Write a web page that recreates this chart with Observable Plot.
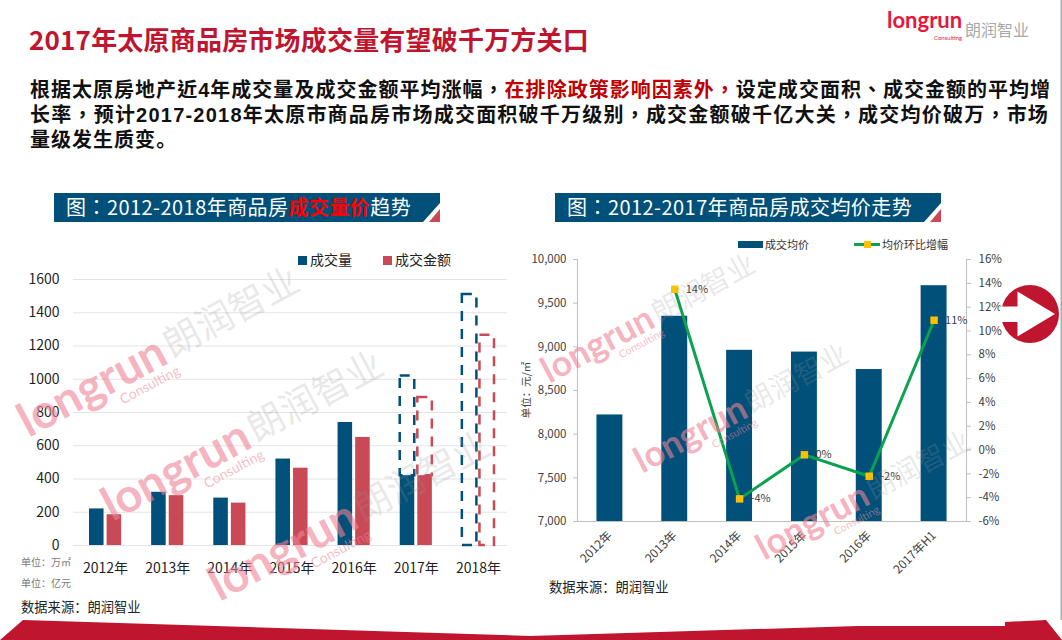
<!DOCTYPE html>
<html lang="zh-CN"><head><meta charset="utf-8">
<script src="https://cdn.jsdelivr.net/npm/d3@7"></script>
<script src="https://cdn.jsdelivr.net/npm/@observablehq/plot@0.6"></script>
<style>
html,body{margin:0;padding:0;background:#fff}
#page{position:relative;width:1062px;height:640px;overflow:hidden;background:#fff;font-family:"Noto Sans CJK SC","Noto Sans",sans-serif;color:#1a1a1a}
.abs{position:absolute;white-space:nowrap;line-height:1}
#page svg{background:transparent}
.banner{position:absolute;top:193px;height:29px;background:#00507a;overflow:hidden}
.banner .txt{position:absolute;left:12px;top:3px;color:#fff;font:400 20px/21px "Noto Sans CJK TC",sans-serif;letter-spacing:.45px;white-space:nowrap}
.banner .slash{position:absolute;right:0;bottom:0;width:17px;height:19px;background:#fff;clip-path:polygon(100% 0,100% 100%,0 100%)}
.banner .tri{position:absolute;right:0;bottom:0;width:11px;height:13px;background:#c94a56;clip-path:polygon(100% 0,100% 100%,0 100%)}
.wm{position:absolute;white-space:nowrap;pointer-events:none;height:0;width:0;z-index:5;transform-origin:0 0}
.wm span{position:absolute;white-space:nowrap;line-height:1}
</style></head><body><div id="page"></div>
<script>
// ---------- data ----------
const years = ["2012年","2013年","2014年","2015年","2016年","2017年","2018年"];
const volume = [220,320,285,520,740,420,null];
const amount = [185,300,255,465,650,420,null];
const forecastYears = ["2017年","2018年"];
const forecastVolumeBase = [420,0];
const forecastVolumeTop = [1020,1510];
const forecastAmountBase = [420,0];
const forecastAmountTop = [890,1265];
const priceYears = ["2012年","2013年","2014年","2015年","2016年","2017年H1"];
const avgPrice = [8220,9350,8960,8940,8740,9700];
const growthYears = ["2013年","2014年","2015年","2016年","2017年H1"];
const growth = [13.5,-4.1,-0.4,-2.2,10.9];
const growthLabels = ["14%","-4%","0%","-2%","11%"];
const leftTicks = [0,200,400,600,800,1000,1200,1400,1600];
const priceTicks = [7000,7500,8000,8500,9000,9500,10000];
const pctTicks = [-6,-4,-2,0,2,4,6,8,10,12,14,16];

const BLUE="#00507a", RED="#c94a56", GREEN="#0ba24f", YEL="#ffc000", INK="#333";
const page=document.getElementById("page");
const FONT='"Noto Sans CJK SC","Noto Sans",sans-serif';

function put(node,left,top,z){node.style.position="absolute";node.style.left=left+"px";node.style.top=top+"px";if(z)node.style.zIndex=z;page.appendChild(node);return node;}
function label(text,left,top,css){const d=document.createElement("div");d.className="abs";d.textContent=text;d.style.left=left+"px";d.style.top=top+"px";d.style.cssText+=css||"";page.appendChild(d);return d;}
function html(h,left,top,css){const d=label("",left,top,css);d.innerHTML=h;d.lang="zh-TW";return d;}

// ---------- header ----------
label("2017年太原商品房市场成交量有望破千万方关口",29,26,'font-weight:700;font-size:26px;letter-spacing:.2px;color:#c0152f;line-height:26px');
const bodyCss='font:700 20px/22px "Liberation Sans","Noto Sans CJK TC",sans-serif;letter-spacing:1.02px;color:#111';
html('根据太原房地产近4年成交量及成交金额平均涨幅，<span style="color:#c00000">在排除政策影响因素外，</span>设定成交面积、成交金额的平均增',30,78.5,bodyCss);
html('长率，预计2017-2018年太原市商品房市场成交面积破千万级别，成交金额破千亿大关，成交均价破万，市场',30,103.5,bodyCss+';letter-spacing:1.22px');
html('量级发生质变<span lang="zh-CN" style="font-family:\'Liberation Sans\',\'Noto Sans CJK SC\'">。</span>',30,128.5,bodyCss);

function banner(left,width,inner){
  const b=document.createElement("div");b.className="banner";b.style.left=left+"px";b.style.width=width+"px";b.lang="zh-TW";
  b.innerHTML='<div class="txt">'+inner+'</div><div class="slash"></div><div class="tri"></div>';
  page.appendChild(b);
}
banner(54,386,'图：2012-2018年商品房<b style="color:#ff0000;font-weight:700">成交量价</b>趋势');
banner(555,386,'图：2012-2017年商品房成交均价走势');

// ---------- left chart ----------
const toBars=(vals,series)=>years.map((y,i)=>({year:y,value:vals[i],series})).filter(d=>d.value!=null);
const toDash=(base,top)=>forecastYears.map((y,i)=>({year:y,y1:base[i],y2:top[i]}));
const left=Plot.plot({
  width:520,height:340,marginLeft:73,marginRight:13,marginTop:39,marginBottom:35,
  style:{fontFamily:FONT,fontSize:"14px",background:"transparent",color:INK},
  x:{domain:years,range:[74,509],paddingInner:.766,paddingOuter:.383,round:false,label:null},
  y:{domain:[0,1600],label:null},
  marks:[
    Plot.gridY(leftTicks,{stroke:"#e4e4e4",strokeOpacity:1,strokeWidth:1.2}),
    Plot.barY(toDash(forecastVolumeBase,forecastVolumeTop),{x:"year",y1:"y1",y2:"y2",dx:-8.8,stroke:BLUE,strokeWidth:2.5,strokeDasharray:"10,8",fill:"none"}),
    Plot.barY(toDash(forecastAmountBase,forecastAmountTop),{x:"year",y1:"y1",y2:"y2",dx:8.8,stroke:RED,strokeWidth:2.5,strokeDasharray:"10,8",fill:"none"}),
    Plot.barY(toBars(volume,"成交量"),{x:"year",y:"value",dx:-8.8,fill:BLUE}),
    Plot.barY(toBars(amount,"成交金额"),{x:"year",y:"value",dx:8.8,fill:RED}),
    Plot.axisY({ticks:leftTicks,tickFormat:d=>String(d),tickSize:0,tickPadding:14,label:null,fontSize:14,fill:"#1f1f1f"}),
    Plot.axisX({tickSize:0,tickPadding:18,label:null,fontSize:14,fill:"#1f1f1f"})
  ]
});
put(left,0,240,2);

const sq=(l,t,c)=>{const d=document.createElement("div");d.style.cssText="position:absolute;left:"+l+"px;top:"+t+"px;width:8.5px;height:8.5px;background:"+c;page.appendChild(d);};
sq(298,256,BLUE);label("成交量",310,252,"font-size:14px;color:#222");
sq(383,256,RED);label("成交金额",395,252,"font-size:14px;color:#222");
label("单位：万㎡",21,557,"font-size:10px;color:#7a7a7a");
label("单位：亿元",21,578,"font-size:10px;color:#7a7a7a");
label("数据来源：朗润智业",21,600,"font-size:13.3px;color:#222");

// ---------- right chart: bars on the price axis ----------
const priceRows=priceYears.map((y,i)=>({year:y,value:avgPrice[i]}));
const growthRows=growthYears.map((y,i)=>({year:y,value:growth[i],text:growthLabels[i]}));
const common={width:490,height:340,marginLeft:57,marginRight:44,marginTop:19,marginBottom:59};
const rightA=Plot.plot({...common,
  x:{domain:priceYears,paddingInner:.6,paddingOuter:.3,round:false,label:null},
  style:{fontFamily:FONT,fontSize:"11px",background:"transparent",color:INK},
  y:{domain:[7000,10000],label:null},
  marks:[
    Plot.barY(priceRows,{x:"year",y1:7000,y2:"value",fill:BLUE}),
    Plot.frame({anchor:"left",stroke:"#bfbfbf"}),
    Plot.ruleY([7000],{stroke:"#bfbfbf",strokeWidth:1.2}),
    Plot.axisY({ticks:priceTicks,tickFormat:d3.format(","),tickSize:4,tickPadding:7,label:null,stroke:"#bfbfbf",fill:"#404040",fontSize:11.5}),
    Plot.axisX({tickSize:0,tickPadding:12,tickRotate:-45,label:null,fill:"#404040",fontSize:12})
  ]
});
put(rightA,520,240,2);

// ---------- right chart: line on the growth axis ----------
const rightB=Plot.plot({...common,
  x:{domain:priceYears,paddingInner:.6,paddingOuter:.3,round:false,label:null,axis:null},
  style:{fontFamily:FONT,fontSize:"11px",background:"transparent",color:INK},
  y:{domain:[-6,16],label:null},
  marks:[
    Plot.axisY({anchor:"right",ticks:pctTicks,tickFormat:d=>d+"%",tickSize:4,tickPadding:8,label:null,stroke:"#bfbfbf",fill:"#404040",fontSize:11.5}),
    Plot.frame({anchor:"right",stroke:"#bfbfbf"}),
    Plot.lineY(growthRows,{x:"year",y:"value",stroke:GREEN,strokeWidth:3,curve:"linear"}),
    Plot.dot(growthRows,{x:"year",y:"value",symbol:"square",r:4.2,fill:YEL,stroke:"none"}),
    Plot.text(growthRows,{x:"year",y:"value",text:"text",dx:11,textAnchor:"start",fontSize:11,fill:"#404040"})
  ]
});
put(rightB,520,240,3);

// legend, right
const lg=document.createElement("div");lg.style.cssText="position:absolute;left:738px;top:241px;width:25px;height:7px;background:"+BLUE;page.appendChild(lg);
label("成交均价",765,239,"font-size:11px;color:#333");
const lg2=document.createElement("div");lg2.style.cssText="position:absolute;left:854px;top:243px;width:26px;height:3px;background:"+GREEN;page.appendChild(lg2);
const lg3=document.createElement("div");lg3.style.cssText="position:absolute;left:864px;top:241px;width:7px;height:7px;background:"+YEL;page.appendChild(lg3);
label("均价环比增幅",882,239,"font-size:11px;color:#333");
const yu=label("单位：元/㎡",526,390,"font-size:10.5px;color:#444;transform:translate(-50%,-50%) rotate(-90deg)");
label("数据来源：朗润智业",549,580,"font-size:13.3px;color:#222");

// ---------- watermarks: x, y, scale ----------
const wmAnchors=[[28,437,1],[112,521,1],[219,601,1],[549,383,.76],[642,473,.76],[764,560,.76]];
wmAnchors.forEach(([x,y,s])=>{
  const w=document.createElement("div");w.className="wm";w.style.left=x+"px";w.style.top=y+"px";
  w.style.transform="rotate(-28deg) scale("+s+")";
  w.innerHTML='<span style="left:0;top:-40px;font:700 47px/1 Lato,sans-serif;color:rgba(240,130,150,.62)">longrun</span>'
   +'<span style="left:99px;top:4px;font:400 14px/1 Lato,sans-serif;color:rgba(240,130,150,.55)">Consulting</span>'
   +'<span style="left:164px;top:-36px;font:400 37px/1 \'Noto Sans CJK SC\',sans-serif;color:rgba(150,150,150,.22)">朗润智业</span>';
  page.appendChild(w);
});

// ---------- logo ----------
label("longrun",887,10,'font:700 22px/20px Lato,sans-serif;color:#e6173c');
label("Consulting",934,35,'font:400 6px/1 Lato,sans-serif;color:#e6173c');
label("朗润智业",965,21,'font-size:16px;color:#a8a8a8');

// ---------- decoration ----------
const dec=document.createElement("div");
dec.style.cssText="position:absolute;left:0;top:0;z-index:6;pointer-events:none";
dec.innerHTML='<svg width="1062" height="640" style="display:block"><polygon fill="#c0152f" points="0,640 23,620 530,636 858,626 1005,626 1005,622 1046,620 1062,640"/>'
 +'<circle cx="1030" cy="314" r="29" fill="#c0152f"/><polygon fill="#fff" points="1000,306.5 1017.5,306.5 1017.5,291.5 1055,314 1017.5,336.5 1017.5,322 1000,322"/>'
 +'<rect x="1060.5" y="0" width="1.5" height="620" fill="#a9aeb4"/></svg>';
page.appendChild(dec);
</script></body></html>
